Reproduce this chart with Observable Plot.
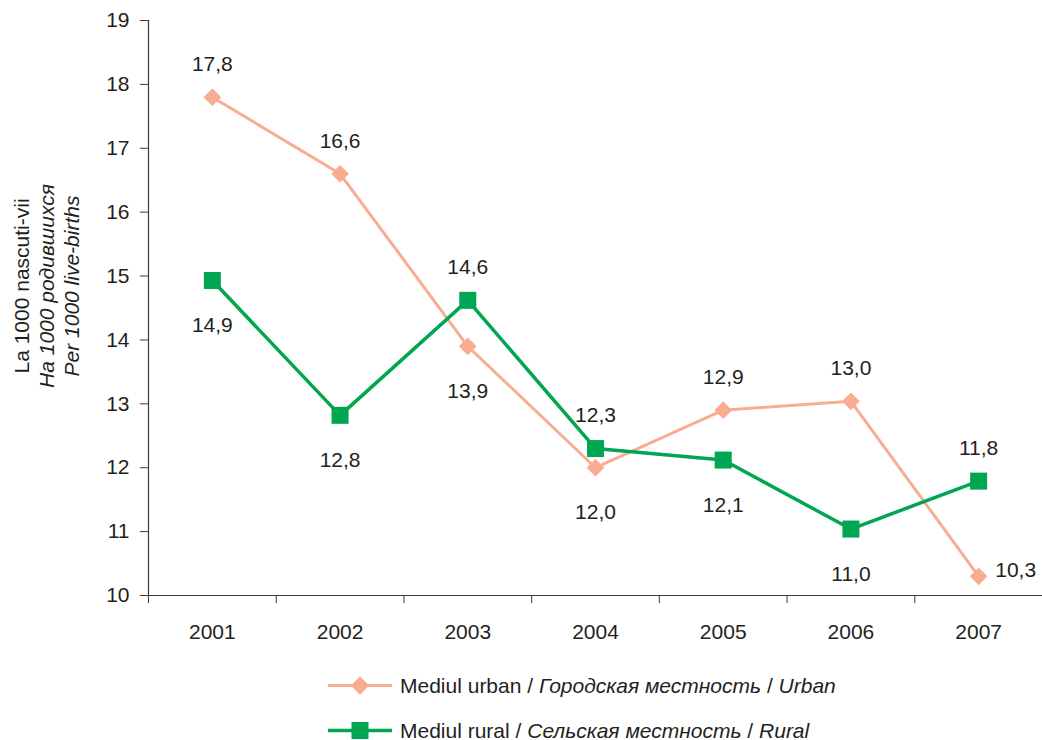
<!DOCTYPE html>
<html><head><meta charset="utf-8">
<script src="https://cdn.jsdelivr.net/npm/d3@7"></script>
<script src="https://cdn.jsdelivr.net/npm/@observablehq/plot@0.6"></script>
<style>
html,body{margin:0;padding:0;background:#fff;}
body{font-family:"Liberation Sans",Arial,sans-serif;color:#231f20;width:1042px;height:740px;overflow:hidden;}
#legend{padding-left:328px;margin-top:8px;font-size:21px;}
.row{display:flex;align-items:center;height:45px;}
.row span{line-height:1;}
.row svg{margin-right:8px;}
</style></head><body>
<div id="chart"></div>
<div id="legend"></div>
<script>
const years = [2001, 2002, 2003, 2004, 2005, 2006, 2007];
const urbanValues = [17.8, 16.6, 13.9, 12.0, 12.9, 13.04, 10.3];
const ruralValues = [14.93, 12.82, 14.62, 12.3, 12.12, 11.04, 11.79];
const urbanLabelPlacement = ["above", "above", "below", "below", "above", "above", "right"];
const ruralLabelPlacement = ["below", "below", "above", "above", "below", "below", "above"];
const yTicks = [10, 11, 12, 13, 14, 15, 16, 17, 18, 19];
const yTitleLines = ["La 1000 nascuti-vii", "На 1000 родившихся", "Per 1000 live-births"];
const seriesNames = ["Mediul urban", "Mediul rural"];
const legendRu = ["Городская местность", "Сельская местность"];
const legendEn = ["Urban", "Rural"];

const urbanColor = "#F8AD91";
const ruralColor = "#00A651";
const ink = "#231f20";
const axisColor = "#3a3a3a";
const fs = 21;

const urban = years.map((y, i) => ({year: y, value: urbanValues[i], place: urbanLabelPlacement[i]}));
const rural = years.map((y, i) => ({year: y, value: ruralValues[i], place: ruralLabelPlacement[i]}));
const boundaries = [years[0] - 0.5, ...years.map(y => y + 0.5)];
const fmt = v => v.toFixed(1).replace(".", ",");
const dyFor = p => p === "above" ? -33 : p === "below" ? 45 : -6;
const dxFor = p => p === "right" ? 37 : 0;

function labelMarks(data) {
  const marks = [];
  for (const p of ["above", "below", "right"]) {
    const sub = data.filter(d => d.place === p);
    if (sub.length) marks.push(Plot.text(sub, {x: "year", y: "value", text: d => fmt(d.value), dy: dyFor(p), dx: dxFor(p), fill: ink, fontSize: fs}));
  }
  return marks;
}

const chart = Plot.plot({
  width: 1042,
  height: 655,
  marginLeft: 148,
  marginRight: 0,
  marginTop: 20,
  marginBottom: 60,
  style: {fontFamily: "Liberation Sans, Arial, sans-serif", fontSize: fs + "px", color: ink, background: "#fff"},
  x: {domain: [boundaries[0], boundaries[boundaries.length - 1]]},
  y: {domain: [10, 19]},
  marks: [
    Plot.axisY({ticks: yTicks, tickSize: 8, tickPadding: 11, label: null, stroke: axisColor, fill: ink, fontSize: fs}),
    Plot.axisX({ticks: boundaries, tickSize: 8, tickFormat: () => "", label: null, stroke: axisColor}),
    Plot.axisX({ticks: years, tickSize: 0, tickPadding: 29, tickFormat: d => String(d), label: null, fill: ink, fontSize: fs}),
    Plot.ruleX([boundaries[0]], {stroke: axisColor, strokeWidth: 1.2}),
    Plot.ruleY([10], {stroke: axisColor, strokeWidth: 1.2}),
    ...yTitleLines.map((t, i) => Plot.text([t], {frameAnchor: "left", textAnchor: "middle", rotate: -90, dx: -126 + i * 25, dy: -22, fill: ink, fontSize: fs, fontStyle: i === 0 ? "normal" : "italic"})),
    Plot.line(urban, {x: "year", y: "value", stroke: urbanColor, strokeWidth: 3}),
    Plot.line(rural, {x: "year", y: "value", stroke: ruralColor, strokeWidth: 3.5}),
    Plot.dot(urban, {x: "year", y: "value", symbol: "diamond2", r: 8, fill: urbanColor, stroke: "none"}),
    Plot.dot(rural, {x: "year", y: "value", symbol: "square", r: 9.6, fill: ruralColor, stroke: "none"}),
    ...labelMarks(urban),
    ...labelMarks(rural)
  ]
});
document.getElementById("chart").appendChild(chart);

const legend = document.getElementById("legend");
const colors = [urbanColor, ruralColor];
seriesNames.forEach((name, i) => {
  const row = document.createElement("div");
  row.className = "row";
  const sw = i === 0 ? 3 : 3.5;
  const marker = i === 0
    ? `<rect x="25.5" y="3" width="13" height="13" transform="rotate(45 32 9.5)" fill="${colors[i]}"/>`
    : `<rect x="23.5" y="1" width="17" height="17" fill="${colors[i]}"/>`;
  row.innerHTML = `<svg width="64" height="20" viewBox="0 0 64 20"><line x1="0" x2="64" y1="9.5" y2="9.5" stroke="${colors[i]}" stroke-width="${sw}"/>${marker}</svg><span>${name} / <i>${legendRu[i]}</i> / <i>${legendEn[i]}</i></span>`;
  legend.appendChild(row);
});
</script>
</body></html>
